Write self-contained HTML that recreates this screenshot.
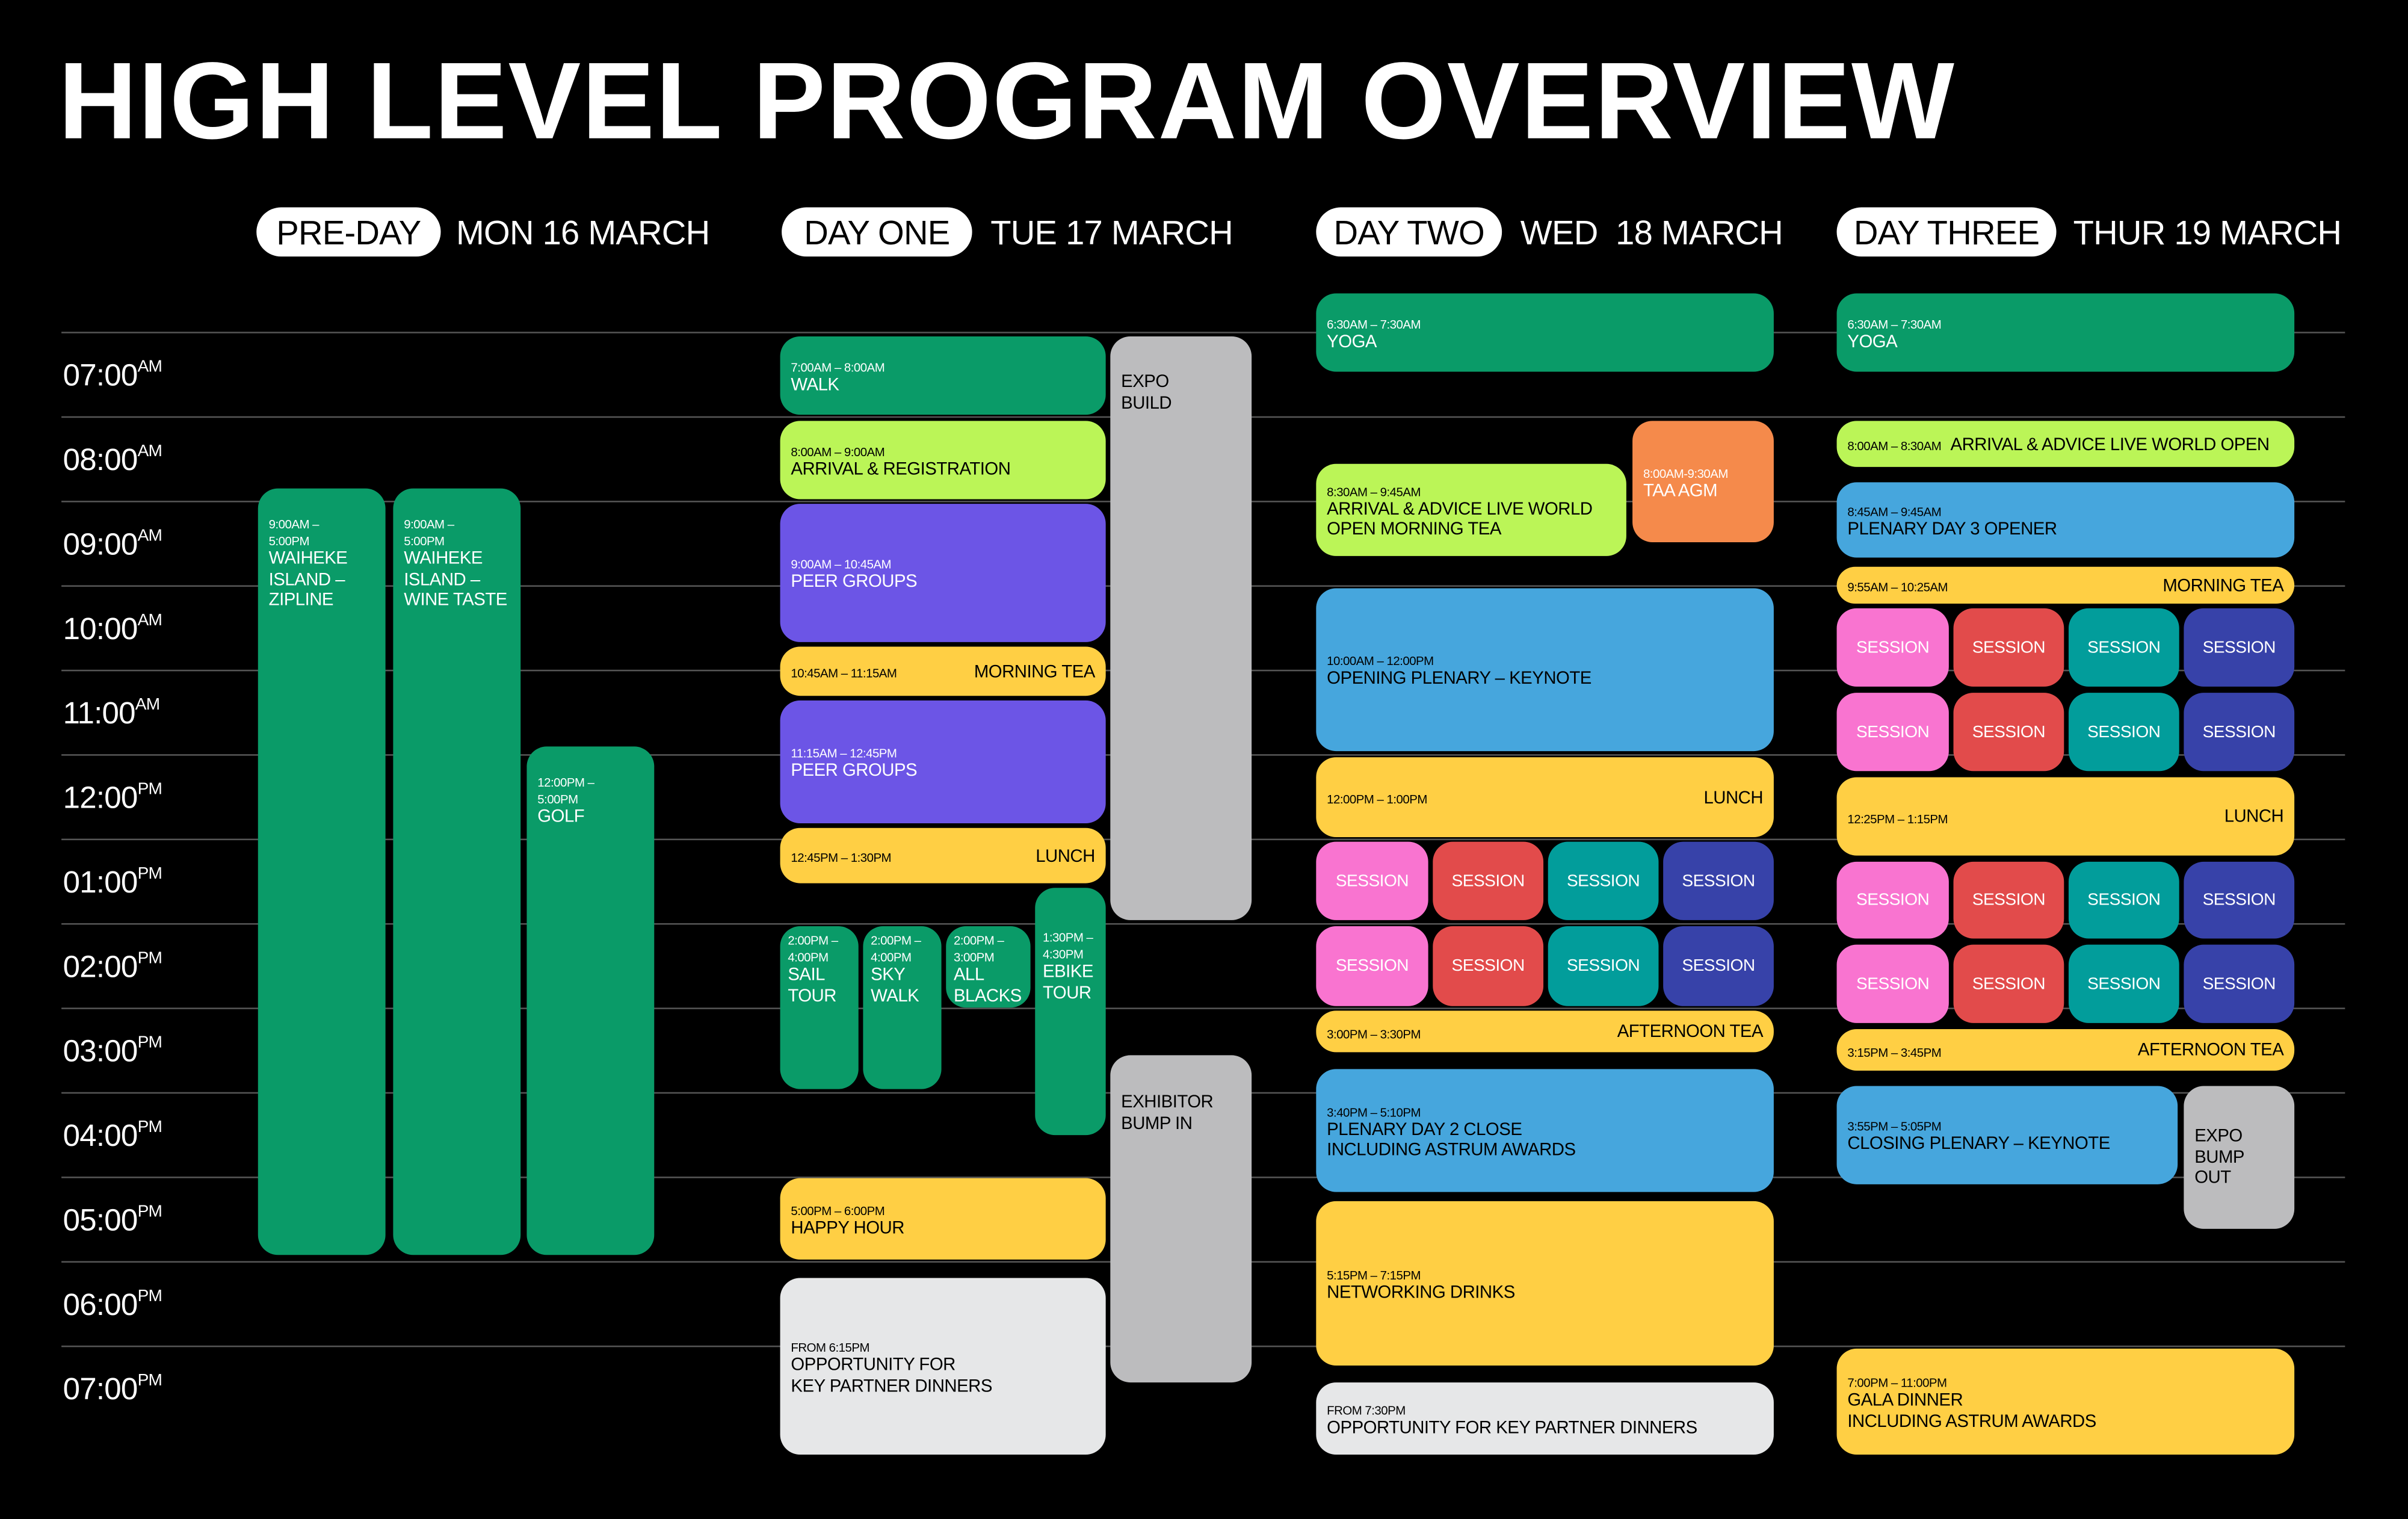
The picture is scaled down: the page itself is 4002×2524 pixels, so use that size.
<!DOCTYPE html>
<html><head><meta charset="utf-8">
<style>
html,body{margin:0;padding:0;background:#000;width:4002px;height:2523px;overflow:hidden}
#s{position:absolute;left:0;top:0;width:1568px;height:989px;transform:scale(2.5523);transform-origin:0 0;font-family:"Liberation Sans",sans-serif;color:#fff}
.b{position:absolute;border-radius:13px;box-sizing:border-box;padding:3px 7px 0;display:flex;flex-direction:column;justify-content:center;font-size:11.5px;line-height:13.5px;letter-spacing:-0.2px}
.b .t{font-size:8px;line-height:11px}
.top{justify-content:flex-start;padding-top:18px}
.row{flex-direction:row;justify-content:space-between;align-items:center}
.ses{align-items:center;font-size:11px;padding:2px 0 0}
.g{background:#0a9b68}.l{background:#bbf557;color:#000}.p{background:#6c55e6}.y{background:#ffcf44;color:#000}
.gr{background:#bcbcbe;color:#000}.lg{background:#e6e7e8;color:#000}.bl{background:#46a6dd;color:#000}.o{background:#f58a4b}
.pk{background:#f974d0}.rd{background:#e24b4b}.tl{background:#029d9b}.nv{background:#3742a9}
.line{position:absolute;left:40px;width:1487px;height:1px;background:#555}
.hr{position:absolute;left:41px;font-size:20px;letter-spacing:-0.3px}
.hr sup{font-size:11px;vertical-align:top;position:relative;top:-1px}
.pill{position:absolute;top:135px;height:32px;background:#fff;color:#000;border-radius:16px;font-size:22px;line-height:33px;text-align:center;letter-spacing:-0.3px}
.dt{position:absolute;top:135px;line-height:33px;font-size:22px;letter-spacing:-0.3px}
</style></head><body><div id="s">
<div style="position:absolute;left:38px;top:27px;font-size:71px;font-weight:bold;letter-spacing:0.7px;line-height:80px">HIGH LEVEL PROGRAM OVERVIEW</div>

<div class="pill" style="left:167px;width:120px">PRE-DAY</div><div class="dt" style="left:297px">MON 16 MARCH</div>
<div class="pill" style="left:509px;width:124px">DAY ONE</div><div class="dt" style="left:645px">TUE 17 MARCH</div>
<div class="pill" style="left:857px;width:121px">DAY TWO</div><div class="dt" style="left:990px">WED&nbsp; 18 MARCH</div>
<div class="pill" style="left:1196px;width:143px">DAY THREE</div><div class="dt" style="left:1350px">THUR 19 MARCH</div>

<div class="line" style="top:216px"></div><div class="line" style="top:271px"></div><div class="line" style="top:326px"></div><div class="line" style="top:381px"></div><div class="line" style="top:436px"></div><div class="line" style="top:491px"></div><div class="line" style="top:546px"></div><div class="line" style="top:601px"></div><div class="line" style="top:656px"></div><div class="line" style="top:711px"></div><div class="line" style="top:766px"></div><div class="line" style="top:821px"></div><div class="line" style="top:876px"></div>

<div class="hr" style="top:234px">07:00<sup>AM</sup></div>
<div class="hr" style="top:289px">08:00<sup>AM</sup></div>
<div class="hr" style="top:344px">09:00<sup>AM</sup></div>
<div class="hr" style="top:399px">10:00<sup>AM</sup></div>
<div class="hr" style="top:454px">11:00<sup>AM</sup></div>
<div class="hr" style="top:509px">12:00<sup>PM</sup></div>
<div class="hr" style="top:564px">01:00<sup>PM</sup></div>
<div class="hr" style="top:619px">02:00<sup>PM</sup></div>
<div class="hr" style="top:674px">03:00<sup>PM</sup></div>
<div class="hr" style="top:729px">04:00<sup>PM</sup></div>
<div class="hr" style="top:784px">05:00<sup>PM</sup></div>
<div class="hr" style="top:839px">06:00<sup>PM</sup></div>
<div class="hr" style="top:894px">07:00<sup>PM</sup></div>

<!-- pre-day -->
<div class="b g top" style="left:168px;top:318px;width:83px;height:499px"><span class="t">9:00AM –<br>5:00PM</span>WAIHEKE ISLAND – ZIPLINE</div>
<div class="b g top" style="left:256px;top:318px;width:83px;height:499px"><span class="t">9:00AM –<br>5:00PM</span>WAIHEKE ISLAND – WINE TASTE</div>
<div class="b g top" style="left:343px;top:486px;width:83px;height:331px"><span class="t">12:00PM –<br>5:00PM</span>GOLF</div>

<!-- day one -->
<div class="b g" style="left:508px;top:219px;width:212px;height:51px"><span class="t">7:00AM – 8:00AM</span>WALK</div>
<div class="b l" style="left:508px;top:274px;width:212px;height:51px"><span class="t">8:00AM – 9:00AM</span>ARRIVAL &amp; REGISTRATION</div>
<div class="b p" style="left:508px;top:328px;width:212px;height:90px"><span class="t">9:00AM – 10:45AM</span>PEER GROUPS</div>
<div class="b y row" style="left:508px;top:421px;width:212px;height:32px"><span class="t">10:45AM – 11:15AM</span><span>MORNING TEA</span></div>
<div class="b p" style="left:508px;top:456px;width:212px;height:80px"><span class="t">11:15AM – 12:45PM</span>PEER GROUPS</div>
<div class="b y row" style="left:508px;top:539px;width:212px;height:36px"><span class="t">12:45PM – 1:30PM</span><span>LUNCH</span></div>
<div class="b g top" style="left:508px;top:603px;width:51px;height:106px;padding:4px 5px 0"><span class="t">2:00PM –<br>4:00PM</span>SAIL TOUR</div>
<div class="b g top" style="left:562px;top:603px;width:51px;height:106px;padding:4px 5px 0"><span class="t">2:00PM –<br>4:00PM</span>SKY WALK</div>
<div class="b g top" style="left:616px;top:603px;width:55px;height:53px;padding:4px 5px 0"><span class="t">2:00PM –<br>3:00PM</span>ALL BLACKS</div>
<div class="b g top" style="left:674px;top:578px;width:46px;height:161px;padding:27px 5px 0"><span class="t">1:30PM –<br>4:30PM</span>EBIKE TOUR</div>
<div class="b gr top" style="left:723px;top:219px;width:92px;height:380px;padding-top:24px">EXPO<br>BUILD</div>
<div class="b gr top" style="left:723px;top:687px;width:92px;height:213px;padding-top:25px">EXHIBITOR<br>BUMP IN</div>
<div class="b y" style="left:508px;top:767px;width:212px;height:53px"><span class="t">5:00PM – 6:00PM</span>HAPPY HOUR</div>
<div class="b lg" style="left:508px;top:832px;width:212px;height:115px"><span class="t">FROM 6:15PM</span>OPPORTUNITY FOR<br>KEY PARTNER DINNERS</div>

<!-- day two -->
<div class="b g" style="left:857px;top:191px;width:298px;height:51px"><span class="t">6:30AM – 7:30AM</span>YOGA</div>
<div class="b l" style="left:857px;top:302px;width:202px;height:60px"><span class="t">8:30AM – 9:45AM</span>ARRIVAL &amp; ADVICE LIVE WORLD<br>OPEN MORNING TEA</div>
<div class="b o top" style="left:1063px;top:274px;width:92px;height:79px;padding-top:29px"><span class="t">8:00AM-9:30AM</span>TAA AGM</div>
<div class="b bl" style="left:857px;top:383px;width:298px;height:106px"><span class="t">10:00AM – 12:00PM</span>OPENING PLENARY – KEYNOTE</div>
<div class="b y row" style="left:857px;top:493px;width:298px;height:52px"><span class="t">12:00PM – 1:00PM</span><span>LUNCH</span></div>
<div class="b ses pk" style="left:857px;top:548px;width:73px;height:51px">SESSION</div>
<div class="b ses rd" style="left:933px;top:548px;width:72px;height:51px">SESSION</div>
<div class="b ses tl" style="left:1008px;top:548px;width:72px;height:51px">SESSION</div>
<div class="b ses nv" style="left:1083px;top:548px;width:72px;height:51px">SESSION</div>
<div class="b ses pk" style="left:857px;top:603px;width:73px;height:52px">SESSION</div>
<div class="b ses rd" style="left:933px;top:603px;width:72px;height:52px">SESSION</div>
<div class="b ses tl" style="left:1008px;top:603px;width:72px;height:52px">SESSION</div>
<div class="b ses nv" style="left:1083px;top:603px;width:72px;height:52px">SESSION</div>
<div class="b y row" style="left:857px;top:658px;width:298px;height:27px"><span class="t">3:00PM – 3:30PM</span><span>AFTERNOON TEA</span></div>
<div class="b bl" style="left:857px;top:696px;width:298px;height:80px"><span class="t">3:40PM – 5:10PM</span>PLENARY DAY 2 CLOSE<br>INCLUDING ASTRUM AWARDS</div>
<div class="b y" style="left:857px;top:782px;width:298px;height:107px"><span class="t">5:15PM – 7:15PM</span>NETWORKING DRINKS</div>
<div class="b lg" style="left:857px;top:900px;width:298px;height:47px"><span class="t">FROM 7:30PM</span>OPPORTUNITY FOR KEY PARTNER DINNERS</div>

<!-- day three -->
<div class="b g" style="left:1196px;top:191px;width:298px;height:51px"><span class="t">6:30AM – 7:30AM</span>YOGA</div>
<div class="b l row" style="left:1196px;top:274px;width:298px;height:30px;justify-content:flex-start"><span class="t" style="margin-right:6px">8:00AM – 8:30AM</span><span>ARRIVAL &amp; ADVICE LIVE WORLD OPEN</span></div>
<div class="b bl" style="left:1196px;top:314px;width:298px;height:49px"><span class="t">8:45AM – 9:45AM</span>PLENARY DAY 3 OPENER</div>
<div class="b y row" style="left:1196px;top:369px;width:298px;height:24px"><span class="t">9:55AM – 10:25AM</span><span>MORNING TEA</span></div>
<div class="b ses pk" style="left:1196px;top:396px;width:73px;height:51px">SESSION</div>
<div class="b ses rd" style="left:1272px;top:396px;width:72px;height:51px">SESSION</div>
<div class="b ses tl" style="left:1347px;top:396px;width:72px;height:51px">SESSION</div>
<div class="b ses nv" style="left:1422px;top:396px;width:72px;height:51px">SESSION</div>
<div class="b ses pk" style="left:1196px;top:451px;width:73px;height:51px">SESSION</div>
<div class="b ses rd" style="left:1272px;top:451px;width:72px;height:51px">SESSION</div>
<div class="b ses tl" style="left:1347px;top:451px;width:72px;height:51px">SESSION</div>
<div class="b ses nv" style="left:1422px;top:451px;width:72px;height:51px">SESSION</div>
<div class="b y row" style="left:1196px;top:506px;width:298px;height:51px"><span class="t">12:25PM – 1:15PM</span><span>LUNCH</span></div>
<div class="b ses pk" style="left:1196px;top:561px;width:73px;height:50px">SESSION</div>
<div class="b ses rd" style="left:1272px;top:561px;width:72px;height:50px">SESSION</div>
<div class="b ses tl" style="left:1347px;top:561px;width:72px;height:50px">SESSION</div>
<div class="b ses nv" style="left:1422px;top:561px;width:72px;height:50px">SESSION</div>
<div class="b ses pk" style="left:1196px;top:615px;width:73px;height:51px">SESSION</div>
<div class="b ses rd" style="left:1272px;top:615px;width:72px;height:51px">SESSION</div>
<div class="b ses tl" style="left:1347px;top:615px;width:72px;height:51px">SESSION</div>
<div class="b ses nv" style="left:1422px;top:615px;width:72px;height:51px">SESSION</div>
<div class="b y row" style="left:1196px;top:670px;width:298px;height:27px"><span class="t">3:15PM – 3:45PM</span><span>AFTERNOON TEA</span></div>
<div class="b bl" style="left:1196px;top:707px;width:222px;height:64px"><span class="t">3:55PM – 5:05PM</span>CLOSING PLENARY – KEYNOTE</div>
<div class="b gr top" style="left:1422px;top:707px;width:72px;height:93px;padding-top:27px">EXPO<br>BUMP<br>OUT</div>
<div class="b y" style="left:1196px;top:878px;width:298px;height:69px"><span class="t">7:00PM – 11:00PM</span>GALA DINNER<br>INCLUDING ASTRUM AWARDS</div>
</div></body></html>
